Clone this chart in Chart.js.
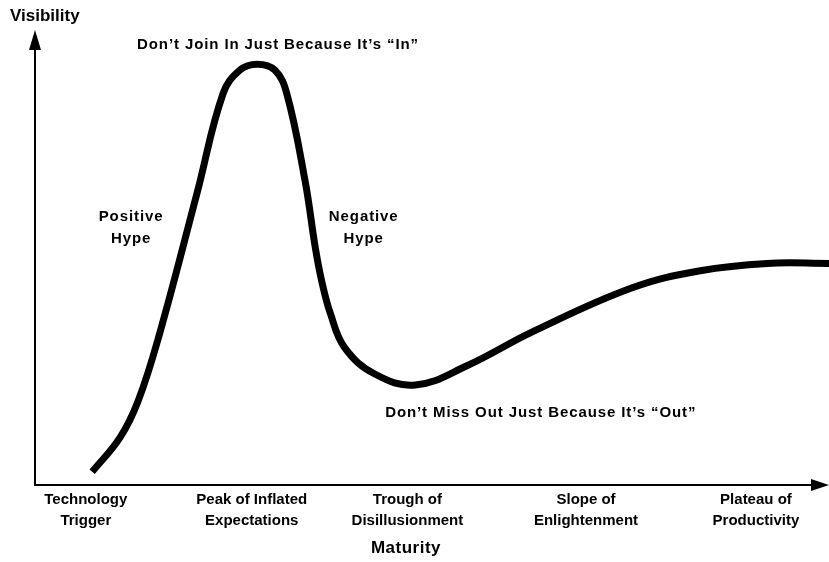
<!DOCTYPE html>
<html>
<head>
<meta charset="utf-8">
<script src="https://cdn.jsdelivr.net/npm/chart.js@4"></script>
<style>
  html, body { margin: 0; padding: 0; background: #fff; }
  #wrap { width: 829px; height: 562px; }
</style>
</head>
<body>
<div id="wrap"><canvas id="hype"></canvas></div>
<script>
// curve (maturity 0..100, visibility 0..100)
const maturity = [7.2, 10.7, 13.0, 15.7, 20.4, 23.7, 25.8, 28.0, 30.2, 31.7, 34.0, 35.3, 36.1, 37.2, 39.0, 42.8, 47.9, 54.4, 62.7, 75.3, 83.8, 92.2, 100];
const visibility = [2.9, 10.4, 18.5, 33.3, 64.1, 86.1, 91.2, 92.5, 91.2, 86.1, 67.0, 52.2, 44.9, 37.7, 30.2, 24.4, 22.0, 26.2, 33.7, 43.4, 47.1, 48.7, 48.7];

// phases along the maturity axis
const phaseAt = [6.4, 27.3, 46.9, 69.4, 90.8];
const phaseLabels = [
  ["Technology", "Trigger"],
  ["Peak of Inflated", "Expectations"],
  ["Trough of", "Disillusionment"],
  ["Slope of", "Enlightenment"],
  ["Plateau of", "Productivity"]
];

// text notes placed in data units
const notes = [
  { text: ["Don\u2019t Join In Just Because It\u2019s \u201CIn\u201D"], x: 30.6, y: 96.7 },
  { text: ["Positive", "Hype"], x: 12.1, y: 59 },
  { text: ["Negative", "Hype"], x: 41.4, y: 59 },
  { text: ["Don\u2019t Miss Out Just Because It\u2019s \u201COut\u201D"], x: 63.7, y: 15.9 }
];

const FONT = "'Liberation Sans', Arial, sans-serif";

const axesPlugin = {
  id: "axesArrows",
  afterDraw(chart) {
    const { ctx, chartArea: a, scales } = chart;
    ctx.save();
    ctx.strokeStyle = "#000";
    ctx.fillStyle = "#000";
    ctx.lineWidth = 2;

    // axis lines
    ctx.beginPath();
    ctx.moveTo(a.left, a.top + 12);
    ctx.lineTo(a.left, a.bottom);
    ctx.lineTo(a.right - 12, a.bottom);
    ctx.stroke();

    // arrow heads
    ctx.beginPath();
    ctx.moveTo(a.left, a.top);
    ctx.lineTo(a.left - 6, a.top + 20);
    ctx.lineTo(a.left + 6, a.top + 20);
    ctx.closePath();
    ctx.fill();

    ctx.beginPath();
    ctx.moveTo(a.right, a.bottom);
    ctx.lineTo(a.right - 18, a.bottom - 6);
    ctx.lineTo(a.right - 18, a.bottom + 6);
    ctx.closePath();
    ctx.fill();

    // axis titles
    ctx.font = "bold 17px " + FONT;
    ctx.textBaseline = "middle";
    ctx.textAlign = "left";
    ctx.fillText("Visibility", 10, 16);
    ctx.textAlign = "center";
    ctx.letterSpacing = "0.5px";
    ctx.fillText("Maturity", 406, 548);

    // notes
    ctx.font = "bold 15px " + FONT;
    ctx.letterSpacing = "0.9px";
    notes.forEach((n) => {
      const px = scales.x.getPixelForValue(n.x);
      const py = scales.y.getPixelForValue(n.y);
      n.text.forEach((line, i) => {
        ctx.fillText(line, px, py + i * 22);
      });
    });
    ctx.restore();
  }
};

new Chart(document.getElementById("hype"), {
  type: "line",
  data: {
    datasets: [{
      data: maturity.map((m, i) => ({ x: m, y: visibility[i] })),
      borderColor: "#000",
      borderWidth: 7,
      pointRadius: 0,
      tension: 0.4,
      fill: false
    }]
  },
  options: {
    responsive: true,
    maintainAspectRatio: false,
    animation: false,
    layout: { padding: { left: 35, top: 30, right: 0, bottom: 27 } },
    plugins: { legend: { display: false }, tooltip: { enabled: false } },
    scales: {
      x: {
        type: "linear",
        min: 0,
        max: 100,
        grid: { display: false, drawTicks: false },
        border: { display: false },
        afterBuildTicks: (axis) => {
          axis.ticks = phaseAt.map((v) => ({ value: v }));
        },
        ticks: {
          autoSkip: false,
          maxRotation: 0,
          padding: 4,
          color: "#000",
          font: { family: FONT, size: 15, weight: "bold", lineHeight: 1.4 },
          callback: (value) => phaseLabels[phaseAt.indexOf(value)]
        }
      },
      y: { display: false, min: 0, max: 100 }
    }
  },
  plugins: [axesPlugin]
});
</script>
</body>
</html>
